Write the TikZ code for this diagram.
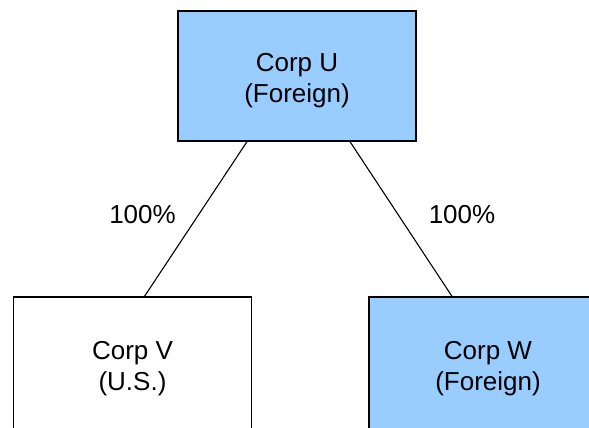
\documentclass[tikz,border=0pt]{standalone}
\usepackage{fontspec}
\setmainfont{Liberation Sans}
\definecolor{foreignblue}{HTML}{99CCFF}

\begin{document}
\begin{tikzpicture}[x=1pt,y=-1pt,
	corpbox/.style={draw,line width=1.3pt,minimum width=238pt,minimum height=130pt,inner sep=0pt},
	foreignbox/.style={corpbox,fill=foreignblue},
	corptext/.style={align=center,inner sep=0pt,font=\fontsize{26}{31}\selectfont},
	pctlabel/.style={inner sep=0pt,font=\fontsize{26}{30}\selectfont}]
		\useasboundingbox (0,0) rectangle (589,428);
		\node[foreignbox,label={[corptext,yshift=-5pt]center:Corp U\\(Foreign)}] (u) at (297,76) {};
		\node[corpbox,minimum height=136pt,label={[corptext,yshift=-4pt]center:Corp V\\(U.S.)}] (v) at (132.5,365) {};
		\node[foreignbox,minimum height=136pt,label={[corptext,yshift=-4pt]center:Corp W\\(Foreign)}] (w) at (488,365) {};
		\draw[line width=1.1pt] ([xshift=-50pt]u.south) -- ([xshift=12pt]v.north);
		\draw[line width=1.1pt] ([xshift=53pt]u.south) -- ([xshift=-36pt]w.north);
		\node[pctlabel] (luv) at (142.5,215) {100\%};
		\node[pctlabel] (luw) at (462,215) {100\%};
	\end{tikzpicture}
\end{document}
